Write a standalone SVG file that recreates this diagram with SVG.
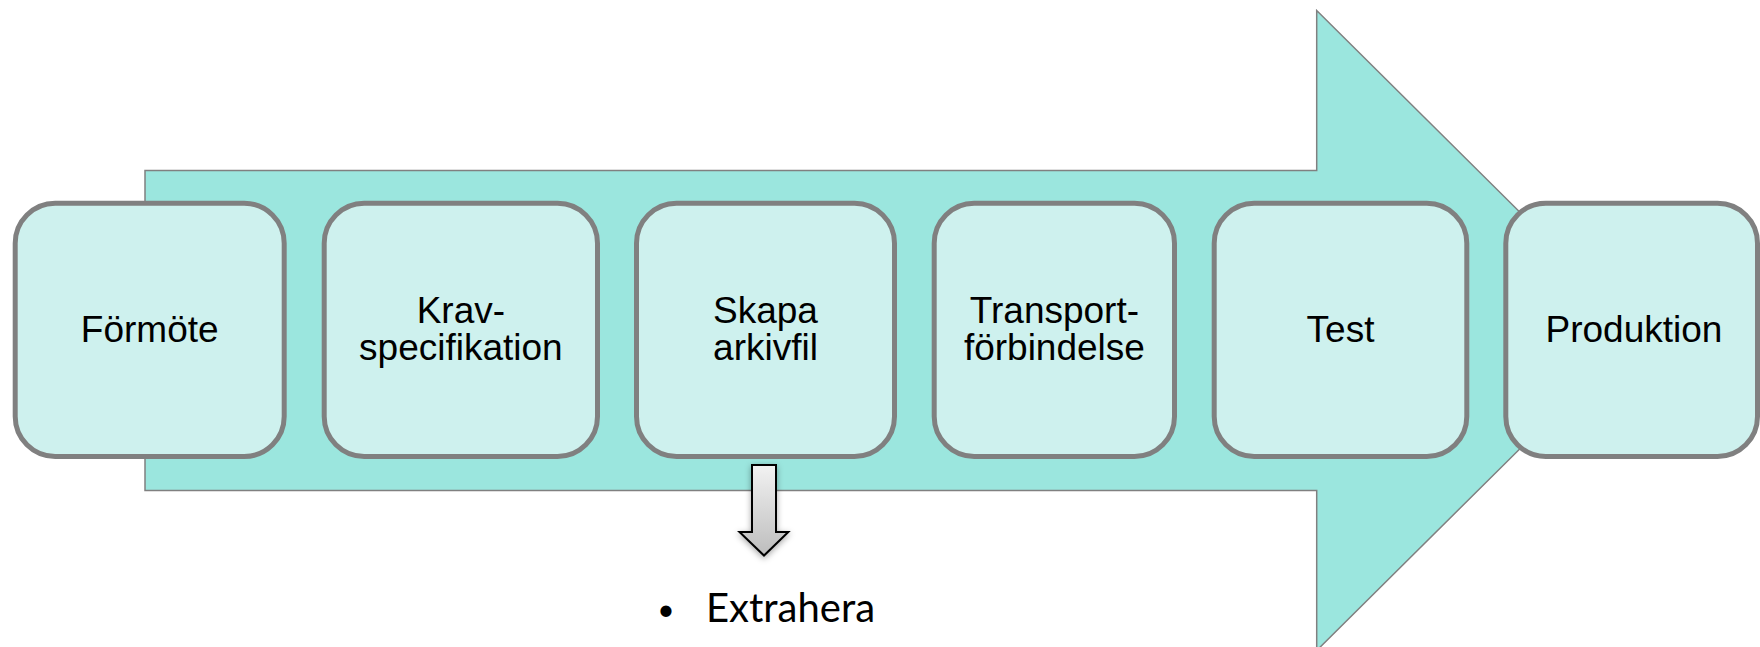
<svg xmlns="http://www.w3.org/2000/svg" width="1760" height="647" viewBox="0 0 1760 647">
  <style>
    .box { fill: #cef1ee; stroke: #808080; stroke-width: 5; }
    .lbl { font-family: "Liberation Sans", Arial, sans-serif; font-size: 37px; fill: #000; text-anchor: middle; }
    .bul { font-family: Lato, "Open Sans", sans-serif; font-size: 40px; fill: #000; }
  </style>
  <defs>
    <linearGradient id="grayGrad" x1="0" y1="0" x2="0" y2="1">
      <stop offset="0" stop-color="#f2f2f2"/>
      <stop offset="1" stop-color="#bdbdbd"/>
    </linearGradient>
    <filter id="shadow" x="-50%" y="-20%" width="200%" height="150%">
      <feDropShadow dx="0" dy="2" stdDeviation="3" flood-color="#000" flood-opacity="0.35"/>
    </filter>
  </defs>
  <rect width="1760" height="647" fill="#ffffff"/>

  <g id="process-arrow">
    <path d="M145 170.6 H1316.7 V10.5 L1639 330.5 L1316.7 650.5 V490.5 H145 Z" fill="#9be6de" stroke="#808080" stroke-width="1.5"/>
  </g>

  <g id="node-formote">
    <rect class="box" x="15.2" y="203.2" width="269" height="253.3" rx="40" ry="40"/>
    <text class="lbl" x="149.7" y="342">Förmöte</text>
  </g>
  <g id="node-kravspecifikation">
    <rect class="box" x="324.2" y="203.2" width="273.3" height="253.3" rx="40" ry="40"/>
    <text class="lbl" x="460.9" y="322.5">Krav-</text>
    <text class="lbl" x="460.9" y="360">specifikation</text>
  </g>
  <g id="node-skapa-arkivfil">
    <rect class="box" x="636.5" y="203.2" width="258" height="253.3" rx="40" ry="40"/>
    <text class="lbl" x="765.5" y="322.5">Skapa</text>
    <text class="lbl" x="765.5" y="360">arkivfil</text>
  </g>
  <g id="node-transportforbindelse">
    <rect class="box" x="934.2" y="203.2" width="240.3" height="253.3" rx="40" ry="40"/>
    <text class="lbl" x="1054.4" y="322.5">Transport-</text>
    <text class="lbl" x="1054.4" y="360">förbindelse</text>
  </g>
  <g id="node-test">
    <rect class="box" x="1214.2" y="203.2" width="252.6" height="253.3" rx="40" ry="40"/>
    <text class="lbl" x="1340.5" y="342">Test</text>
  </g>
  <g id="node-produktion">
    <rect class="box" x="1505.8" y="203.2" width="251.7" height="253.3" rx="40" ry="40"/>
    <text class="lbl" x="1634" y="342">Produktion</text>
  </g>

  <g id="connectors">
    <path d="M752 465 H776 V532 H788.3 L764 555.5 L739.5 532 H752 Z" fill="url(#grayGrad)" stroke="#000" stroke-width="2" stroke-linejoin="miter" filter="url(#shadow)"/>
  </g>

  <g id="node-extrahera">
    <text class="bul" x="666" y="620" text-anchor="middle" style="font-size:30px">•</text>
    <text class="bul" x="706" y="622">Extrahera</text>
  </g>
</svg>
